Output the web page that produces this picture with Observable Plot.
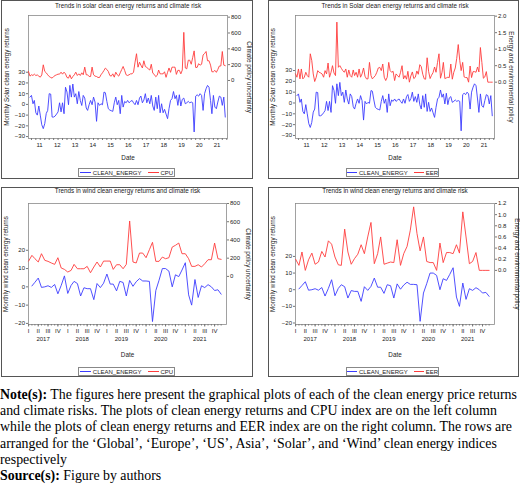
<!DOCTYPE html>
<html><head><meta charset="utf-8">
<script src="https://cdn.jsdelivr.net/npm/d3@7"></script>
<script src="https://cdn.jsdelivr.net/npm/@observablehq/plot@0.6"></script>
<style>
html,body{margin:0;padding:0;background:#fff}
body{width:520px;height:486px;overflow:hidden;position:relative;font-family:"Liberation Sans",Arial,sans-serif}
.box{position:absolute;border:1px solid #555;box-sizing:border-box}
.fig{position:absolute}
.legend{position:absolute;border:1px solid #888;box-sizing:border-box;font-size:6px;color:#222;display:flex;align-items:center;justify-content:center;gap:2px;background:#fff}
.legend .sw{display:inline-block;width:11px;height:0;border-top:1px solid}
.legend .lab{margin-right:4px}
.note{position:absolute;left:0;top:387px;font-family:"Liberation Serif","Times New Roman",serif;line-height:16.2px;white-space:nowrap;color:#000}
</style></head>
<body>
<div id="root"></div>
<div class="note" id="note"></div>
<script>
// ---------- data ----------
// Solar clean energy monthly returns, 2010-12 .. 2021-12
const solarReturns = [6.8,8.4,0.6,3.7,-7.8,-10,-1.5,-10,-19,-22.6,-18,-8.5,-5.6,10,9.6,-11.8,-11.8,-10.9,-9,-7,
1.5,-7,1.5,-8.7,16,11.5,-0.3,17.7,6.8,19,6.8,10,0.6,12,3.7,-1,8.4,5.9,-3.4,-5.6,
-0.3,3.7,-0.3,6.8,2.2,-15.8,1.5,-0.9,0.6,-0.3,11.5,10.9,2.8,-4,-5.3,-5.9,-6.5,1.5,6.8,-0.3,
3.7,-8.7,8.4,-2.5,2.8,1.5,3.7,1.5,2.8,3.7,1.5,-0.3,3.7,-0.3,5.9,7.8,1.5,4,10,1.5,
5.9,0.6,8.4,-1.5,-5.6,6.8,-4,8.4,-7.8,0.6,-7.8,-4.6,-9,-13.3,-4,3.7,5.3,12,5.3,8.4,
-0.9,9,-1.5,4.7,5.9,0.6,1.5,2.8,1.5,2.2,1.5,-25.7,7.7,9,7.7,10,8.4,-5.6,10,14.6,
17.7,16,3.7,-8.7,8.4,-2.5,-4,2.2,7.7,6.8,-0.9,6.8,-11.8];
// Climate policy uncertainty, 2010-11 .. 2016-12
const cpuEarly = [114,55,72,63,80,63,70,55,42,70,198,115,97,72,50,38,30,50,63,72,
80,80,105,80,105,84,38,30,72,21,50,72,105,63,84,63,97,72,169,72,
72,50,50,169,72,55,50,38,38,72,97,127,156,139,114,63,55,84,42,105,
72,55,97,139,177,127,72,63,72,84,84,105,232,338];
// Climate policy uncertainty, 2017-01 .. 2021-12
const cpuLate = [168,231,194,158,249,176,165,147,132,205,92,77,48,66,132,84,84,84,110,40,
103,158,103,168,168,168,77,128,128,84,132,608,158,147,256,256,205,293,374,165,
165,212,194,205,322,341,366,249,249,194,110,110,128,103,139,183,183,366,194,187];
// Energy and environmental policy, 2010-11 .. 2016-12
const eerEarly = [0.25,0.15,0.40,0.10,0.40,0.10,0.15,0.30,0.20,0.15,0.86,0.66,0.25,0.02,0.15,0.35,0.30,0.28,0.25,0.15,
0.35,0.25,0.58,0.15,0.30,0.50,0.28,0.20,1.82,0.45,0.50,0.42,0.35,0.30,0.40,0.15,0.37,0.20,0.15,0.37,
0.20,0.30,0.15,0.40,0.15,0.25,0.43,0.18,0.10,0.10,0.60,0.20,0.10,0.15,0.20,0.30,0.43,0.45,0.35,0.55,
0.15,0.05,0.15,0.60,0.35,0.30,0.33,0.05,0.25,0.20,0.15,0.30,0.50,0.10];
// Energy and environmental policy, 2017-01 .. 2021-12
const eerLate = [0.20,0.09,0.33,0.00,0.19,0.31,0.11,0.15,0.34,0.24,0.53,0.47,0.24,0.10,0.09,0.74,0.33,0.11,0.21,0.29,
0.46,0.30,0.60,0.86,0.12,0.30,0.60,0.11,0.13,0.15,0.14,0.55,0.09,0.30,0.43,0.72,1.14,0.66,0.35,0.60,
0.16,0.14,0.14,0.00,0.49,0.14,0.32,0.32,0.30,0.46,0.31,1.05,0.60,0.12,0.16,0.32,0.00,0.00,0.00,0.00];
// Wind clean energy monthly returns, 2017-02 .. 2021-12
const windReturns = [0.5,2.5,4.8,-0.3,0.0,0.6,-0.3,1.3,-3.8,0.8,6.0,-3.6,0.8,3.0,1.8,-5.0,-0.5,-1.0,-1.0,-7.0,
1.8,-0.4,2.0,7.0,1.5,1.5,-2.2,3.0,2.4,-5.0,3.5,0.3,2.8,4.5,3.2,3.2,3.0,-19.0,-2.0,3.6,
10.0,10.0,8.6,0.0,6.6,5.6,9.2,13.2,-4.4,-10.0,4.0,-5.8,0.6,-0.4,1.2,0.0,-2.0,-1.6,-4.0];

const shortYears = ["11","12","13","14","15","16","17","18","19","20","21"];
const longYears = ["2017","2018","2019","2020","2021"];
const quarterNames = ["I","II","III","IV"];
const seriesNames = ["CLEAN_ENERGY","CPU","EER"];

const leftTicksTop = [-30,-20,-10,0,10,20,30];
const leftTicksBottom = [-20,-10,0,10,20];
const cpuTicksTop = [0,200,400,600,800];
const eerTicksTop = [0,0.5,1,1.5,2];
const eerTicksBottom = [0,0.2,0.4,0.6,0.8,1,1.2];

// ---------- tables ----------
const topMonth = m => new Date(Date.UTC(2010, 10 + m, 1));
const botMonth = i => new Date(Date.UTC(2017, i, 1));
const solarData = solarReturns.map((v, k) => ({date: topMonth(k + 1), v}));
const cpuTop = cpuEarly.concat(cpuLate).map((v, m) => ({date: topMonth(m), v}));
const eerTop = eerEarly.concat(eerLate).map((v, m) => ({date: topMonth(m), v}));
const windData = windReturns.map((v, k) => ({date: botMonth(k + 1), v}));
const cpuBot = cpuLate.map((v, i) => ({date: botMonth(i), v}));
const eerBot = eerLate.map((v, i) => ({date: botMonth(i), v}));

const BLUE = "#3c3cff", RED = "#ff3c3c", INK = "#222";
const FONT = "'Liberation Sans', Arial, sans-serif";

// x axes
const topDomain = [new Date(Date.UTC(2010, 10, 1)), new Date(Date.UTC(2022, 0, 16))];
const topQuarters = d3.utcMonth.every(3).range(new Date(Date.UTC(2010, 11, 1)), topDomain[1]);
const topYearMid = shortYears.map((s, k) => new Date(Date.UTC(2011 + k, 5, 15)));
const topYearFmt = new Map(topYearMid.map((d, k) => [+d, shortYears[k]]));
function topXAxes() {
  return [
    Plot.axisX(topQuarters, {tickSize: 2, tickFormat: () => "", stroke: "#777", label: null}),
    Plot.axisX(topYearMid, {tickSize: 0, tickPadding: 4, tickFormat: d => topYearFmt.get(+d), fill: INK, label: null})
  ];
}
const botDomain = [new Date(Date.UTC(2016, 11, 31)), new Date(Date.UTC(2022, 0, 20))];
const botMonths = d3.utcMonth.range(new Date(Date.UTC(2017, 0, 1)), new Date(Date.UTC(2022, 0, 1)));
const botQuarters = botMonths.filter(d => d.getUTCMonth() % 3 === 0);
const botYearMid = longYears.map((s, k) => new Date(Date.UTC(2017 + k, 4, 16)));
const botYearFmt = new Map(botYearMid.map((d, k) => [+d, longYears[k]]));
function botXAxes() {
  return [
    Plot.axisX(botMonths, {tickSize: 1.5, tickFormat: () => "", stroke: "#777", label: null}),
    Plot.axisX(botQuarters, {tickSize: 2.5, tickPadding: 1.5, tickFormat: d => quarterNames[d.getUTCMonth() / 3], stroke: "#777", fill: INK, label: null}),
    Plot.axisX(botYearMid, {tickSize: 0, tickPadding: 12.5, tickFormat: d => botYearFmt.get(+d), fill: INK, label: null})
  ];
}

function panel(cfg) {
  const root = document.getElementById("root");
  const [lo, hi] = cfg.yDomain, [rlo, rhi] = cfg.rDomain;
  const toLeft = v => lo + (v - rlo) / (rhi - rlo) * (hi - lo);
  const rTicks = cfg.rightTicks.map(toLeft);
  const rFmt = new Map(rTicks.map((t, k) => [t, cfg.rightFmt(cfg.rightTicks[k])]));
  const svg = Plot.plot({
    width: cfg.w, height: cfg.h,
    marginLeft: cfg.mL, marginRight: cfg.mR, marginTop: cfg.mT, marginBottom: cfg.mB,
    style: {fontFamily: FONT, fontSize: "6px", background: "transparent", color: INK, overflow: "visible"},
    x: {type: "utc", domain: cfg.xDomain, label: null},
    y: {domain: cfg.yDomain, label: null},
    marks: [
      Plot.frame({stroke: "#8a8a8a", strokeWidth: 0.8}),
      Plot.axisY(cfg.leftTicks, {anchor: "left", tickSize: 2, tickPadding: 1.5, stroke: "#777", fill: INK, label: null}),
      Plot.axisY(rTicks, {anchor: "right", tickSize: 2, tickPadding: 1.5, tickFormat: d => rFmt.get(d), stroke: "#777", fill: INK, label: null}),
      ...cfg.xAxes(),
      Plot.line(cfg.red, {x: "date", y: d => toLeft(d.v), stroke: RED, strokeWidth: 0.9}),
      Plot.line(cfg.blue, {x: "date", y: "v", stroke: BLUE, strokeWidth: 0.9}),
      Plot.text([cfg.title], {frameAnchor: "top", dy: cfg.titleDy, textAnchor: "middle", lineAnchor: "middle", fontSize: 6.3, fill: INK}),
      Plot.text([cfg.leftLabel], {frameAnchor: "left", dx: cfg.leftDx, rotate: -90, textAnchor: "middle", lineAnchor: "middle", fontSize: 6.3, fill: INK}),
      Plot.text([cfg.rightLabel], {frameAnchor: "right", dx: cfg.rightDx, rotate: 90, textAnchor: "middle", lineAnchor: "middle", fontSize: 6.3, fill: INK}),
      Plot.text(["Date"], {frameAnchor: "bottom", dy: cfg.dateDy, textAnchor: "middle", lineAnchor: "middle", fontSize: 6.3, fill: INK})
    ]
  });
  const box = document.createElement("div");
  box.className = "box";
  Object.assign(box.style, {left: cfg.x + "px", top: cfg.y + "px", width: cfg.w + "px", height: cfg.h + "px"});
  root.appendChild(box);
  const fig = document.createElement("div");
  fig.className = "fig";
  Object.assign(fig.style, {left: cfg.x + "px", top: cfg.y + "px"});
  fig.appendChild(svg);
  root.appendChild(fig);
  const lg = document.createElement("div");
  lg.className = "legend";
  Object.assign(lg.style, {left: cfg.legend[0] + "px", top: cfg.legend[1] + "px", width: cfg.legend[2] + "px", height: "9px"});
  lg.innerHTML = `<span class="sw" style="border-color:${BLUE}"></span><span class="lab">${seriesNames[0]}</span>` +
                 `<span class="sw" style="border-color:${RED}"></span><span>${cfg.redName}</span>`;
  root.appendChild(lg);
}

const intFmt = v => String(v);
const dec1 = v => v.toFixed(1);

panel({x: 1, y: 0, w: 252, h: 179, mL: 27, mR: 26, mT: 15, mB: 41,
  yDomain: [-31.8, 82.9], rDomain: [-733, 821], leftTicks: leftTicksTop, rightTicks: cpuTicksTop, rightFmt: intFmt,
  xDomain: topDomain, xAxes: topXAxes, blue: solarData, red: cpuTop,
  title: "Trends in solar clean energy returns and climate risk", titleDy: -10,
  leftLabel: "Monthly Solar clean energy returns", leftDx: -22,
  rightLabel: "Climate policy uncertainty", rightDx: 22, dateDy: 19,
  legend: [78, 168, 97], redName: seriesNames[1]});

panel({x: 268, y: 0, w: 251, h: 179, mL: 27, mR: 25, mT: 15, mB: 41,
  yDomain: [-32.8, 80.8], rDomain: [-1.706, 2.02], leftTicks: leftTicksTop, rightTicks: eerTicksTop, rightFmt: dec1,
  xDomain: topDomain, xAxes: topXAxes, blue: solarData, red: eerTop,
  title: "Trends in Solar clean energy returns and climate risk", titleDy: -10,
  leftLabel: "Monthly Solar clean energy returns", leftDx: -23,
  rightLabel: "Energy and environmental policy", rightDx: 17, dateDy: 19,
  legend: [346, 168, 93], redName: seriesNames[2]});

panel({x: 1, y: 187, w: 252, h: 190, mL: 27, mR: 27, mT: 16, mB: 53,
  yDomain: [-20.6, 45.6], rDomain: [-528, 800], leftTicks: leftTicksBottom, rightTicks: cpuTicksTop, rightFmt: intFmt,
  xDomain: botDomain, xAxes: botXAxes, blue: windData, red: cpuBot,
  title: "Trends in wind clean energy returns and climate risk", titleDy: -13,
  leftLabel: "Monthly wind clean energy returns", leftDx: -23,
  rightLabel: "Climate policy uncertainty", rightDx: 22, dateDy: 30,
  legend: [78, 367, 97], redName: seriesNames[1]});

panel({x: 268, y: 187, w: 251, h: 190, mL: 27, mR: 25, mT: 16, mB: 53,
  yDomain: [-20.9, 51.8], rDomain: [-0.971, 1.2], leftTicks: leftTicksBottom, rightTicks: eerTicksBottom, rightFmt: dec1,
  xDomain: botDomain, xAxes: botXAxes, blue: windData, red: eerBot,
  title: "Trends in wind clean energy returns and climate risk", titleDy: -13,
  leftLabel: "Monthly wind clean energy returns", leftDx: -23,
  rightLabel: "Energy and environmental policy", rightDx: 23, dateDy: 30,
  legend: [346, 367, 93], redName: seriesNames[2]});

// ---------- note ----------
const noteLines = [
  "<b>Note(s):</b> The figures here present the graphical plots of each of the clean energy price returns",
  "and climate risks. The plots of clean energy returns and CPU index are on the left column",
  "while the plots of clean energy returns and EER index are on the right column. The rows are",
  "arranged for the \u2018Global\u2019, \u2018Europe\u2019, \u2018US\u2019, Asia\u2019, \u2018Solar\u2019, and \u2018Wind\u2019 clean energy indices",
  "respectively",
  "<b>Source(s):</b> Figure by authors"
];
const note = document.getElementById("note");
note.innerHTML = noteLines.join("<br>");
note.style.fontSize = "13px";
const probe = document.createElement("span");
probe.innerHTML = noteLines[0];
probe.style.cssText = "position:absolute;visibility:hidden;white-space:nowrap;font-family:'Liberation Serif','Times New Roman',serif;font-size:100px";
document.body.appendChild(probe);
const wid = probe.getBoundingClientRect().width;
probe.remove();
if (wid > 0) note.style.fontSize = (517 / wid * 100).toFixed(2) + "px";
</script>
</body></html>
